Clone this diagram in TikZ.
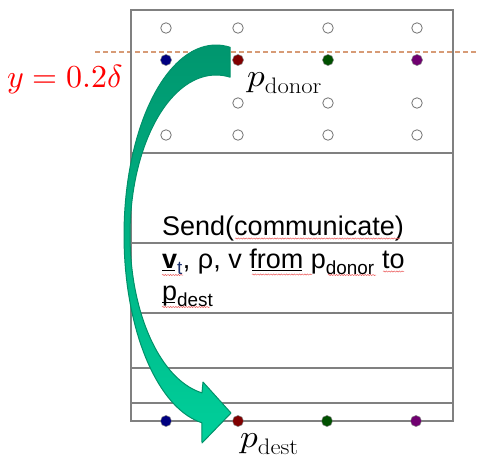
\documentclass[tikz,border=0pt]{standalone}
\usepackage{fontspec}
\usepackage{unicode-math}
\newfontfamily\arial{Liberation Sans}
\usetikzlibrary{decorations.pathmorphing}
\definecolor{gridc}{RGB}{128,128,128}
\definecolor{dashc}{RGB}{215,155,118}
\definecolor{arrTop}{RGB}{0,150,110}
\definecolor{arrBot}{RGB}{0,208,155}
\definecolor{arrEdge}{RGB}{0,145,105}
\definecolor{dNavy}{RGB}{0,0,128}
\definecolor{dRed}{RGB}{128,0,0}
\definecolor{dGreen}{RGB}{0,80,0}
\definecolor{dPurple}{RGB}{112,0,112}
\definecolor{squigc}{RGB}{235,90,90}
\definecolor{subblue}{RGB}{30,50,110}
\tikzset{
  gridline/.style={draw=gridc, line width=1.1pt},
  opendot/.style={circle, draw=gridc!90!black, fill=white, line width=0.8pt, minimum size=10.5pt, inner sep=0pt},
  fulldot/.style={circle, draw=gridc, fill=#1, line width=0.5pt, minimum size=11pt, inner sep=0pt},
  sanstext/.style={anchor=base west, inner sep=0pt, font=\arial\fontsize{27}{30}\selectfont},
  squig/.style={draw=squigc, line width=0.5pt, decorate, decoration={snake, amplitude=0.6pt, segment length=2.6pt}},
  uline/.style={draw=black, line width=0.9pt},
  mathlabel/.style={inner sep=0pt, anchor=base west, font=\fontsize{32}{36}\selectfont}
}
\begin{document}
\begin{tikzpicture}[x=1pt,y=-1pt]
\path[use as bounding box] (0,0) rectangle (478,459);
% dashed level line
\draw[dashc, line width=1.1pt, dash pattern=on 4.5pt off 3.5pt] (95,52) -- (478,52);
% grid
\draw[gridline] (131,10) rectangle (453,421);
\foreach \yy in {153,243,313,368,403} \draw[gridline] (131,\yy) -- (453,\yy);
% open dots
\foreach \xx/\n in {166/1,238/2,328/3,417/4} {
  \node[opendot] (a\n) at (\xx,28) {};
  \node[opendot] (d\n) at (\xx,135) {};
}
\foreach \xx/\n in {238/2,328/3,417/4} \node[opendot] (c\n) at (\xx,103) {};
% filled dots
\node[fulldot=dNavy] (b1) at (166,60) {};
\node[fulldot=dRed] (b2) at (238,60) {};
\node[fulldot=dGreen] (b3) at (328,60) {};
\node[fulldot=dPurple] (b4) at (417,60) {};
\node[fulldot=dNavy] (e1) at (166,421) {};
\node[fulldot=dRed] (e2) at (238,421) {};
\node[fulldot=dGreen] (e3) at (327,421) {};
\node[fulldot=dPurple] (e4) at (416,421) {};
% labels
\node[mathlabel, text=red] (ylab) at (7,87) {$y=0.2\delta$};
\node[mathlabel, xscale=1.1] (pdonor) at (247,86) {$p_{\mathrm{donor}}$};
\node[mathlabel, xscale=1.1] (pdest) at (240,447) {$p_{\mathrm{dest}}$};
% text
\node[sanstext] (l1) at (162,235) {Send(communicate)};
\node[sanstext] (l2) at (162,268) {\textbf{v}\textsubscript{\color{subblue}t}, ρ, v from p\textsubscript{donor} to};
\node[sanstext] (l3) at (162,300) {p\textsubscript{dest}};
% underlines and spell-check squiggles
\draw[uline] (162,270.5) -- (175,270.5);
\draw[uline] (252,270.5) -- (302,270.5);
\draw[uline] (162,302.5) -- (175,302.5);
\draw[squig] (235,238.5) -- (400,238.5);
\draw[squig] (162,275) -- (183,275);
\draw[squig] (252,274.5) -- (312,274.5);
\draw[squig] (328,275) -- (376,275);
\draw[squig] (383,271.5) -- (404,271.5);
\draw[squig] (162,307) -- (210,307);
% curved arrow
\shade[top color=arrTop, bottom color=arrBot, draw=arrEdge, line width=1pt, line join=round]
  plot[domain=98.8:278.8, samples=80] ({216+92*cos(\x)},{235+190*sin(\x)})
  -- plot[domain=0:180, samples=80] ({216+86*cos(279.4-\x)},{235+160*sin(279.4-\x)})
  -- (203,382) -- (231,413) -- (202,443) -- cycle;
\end{tikzpicture}
\end{document}
